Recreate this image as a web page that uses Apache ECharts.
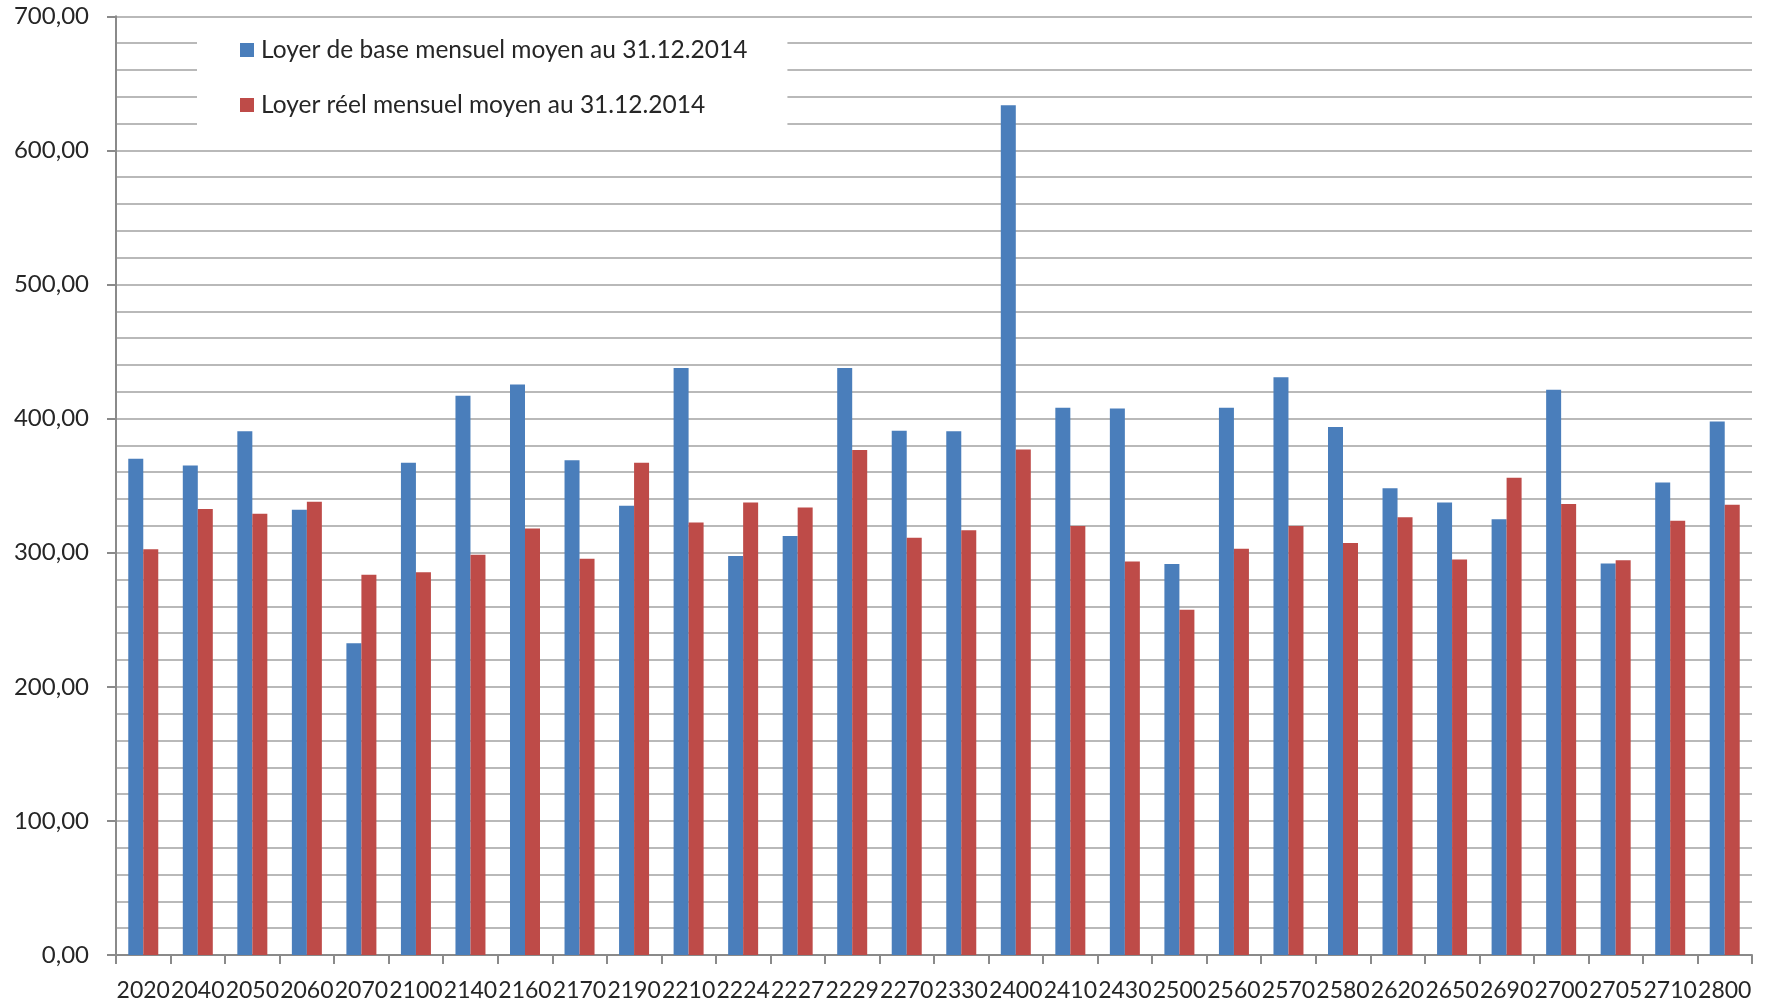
<!DOCTYPE html>
<html>
<head>
<meta charset="utf-8">
<script src="https://cdn.jsdelivr.net/npm/echarts@6/dist/echarts.min.js"></script>
<style>html,body{margin:0;padding:0;background:#fff}#c{width:1767px;height:1005px}</style>
</head>
<body>
<div id="c"></div>
<script>
const categories = ['2020','2040','2050','2060','2070','2100','2140','2160','2170','2190','2210','2224','2227','2229','2270','2330','2400','2410','2430','2500','2560','2570','2580','2620','2650','2690','2700','2705','2710','2800'];
const loyerBase = [370, 365, 390.5, 332, 232.5, 367, 417, 425.5, 369, 335, 437.7, 297.5, 312.5, 437.7, 391, 390.5, 633.6, 408, 407.5, 291.6, 408, 430.8, 393.8, 348, 337.5, 325, 421.5, 292, 352.3, 397.8];
const loyerReel = [302.5, 332.5, 329, 338, 283.5, 285.5, 298.5, 318, 295.5, 367, 322.5, 337.5, 333.7, 376.5, 311.2, 316.8, 377, 320, 293.5, 257.5, 303, 320, 307.3, 326.5, 295, 355.8, 336.3, 294.3, 323.8, 335.8];
const seriesNames = ['Loyer de base mensuel moyen au 31.12.2014', 'Loyer réel mensuel moyen au 31.12.2014'];

const FONT = 'Lato';
const TXT = '#262626';
const GRID = '#b9b9b9';
const AXIS = '#8a8a8a';

const chart = echarts.init(document.getElementById('c'), null, {renderer: 'canvas'});
chart.setOption({
  animation: false,
  backgroundColor: '#ffffff',
  textStyle: {fontFamily: FONT, color: TXT},
  grid: {left: 116, right: 15, top: 16.3, bottom: 50, containLabel: false},
  legend: {
    orient: 'vertical',
    left: 197, top: 25,
    padding: [11, 40, 13, 43],
    backgroundColor: '#ffffff',
    itemWidth: 14, itemHeight: 14,
    itemGap: 27,
    icon: 'rect',
    textStyle: {fontFamily: FONT, fontSize: 24.5, color: TXT, lineHeight: 28, padding: [0, 0, 0, 2]},
    data: seriesNames
  },
  xAxis: {
    type: 'category',
    data: categories,
    boundaryGap: true,
    axisLine: {show: true, lineStyle: {color: AXIS, width: 2}},
    axisTick: {show: true, length: 9, alignWithLabel: false, lineStyle: {color: AXIS, width: 2}},
    axisLabel: {interval: 0, hideOverlap: false, margin: 24, fontFamily: FONT, fontSize: 23, color: TXT},
    splitLine: {show: false}
  },
  yAxis: {
    type: 'value',
    min: 0, max: 700, interval: 100,
    axisLine: {show: true, lineStyle: {color: AXIS, width: 2}},
    axisTick: {show: true, length: 9, lineStyle: {color: AXIS, width: 2}},
    axisLabel: {margin: 27, fontFamily: FONT, fontSize: 24, color: TXT,
      formatter: v => v.toFixed(2).replace('.', ',')},
    splitLine: {show: true, lineStyle: {color: GRID, width: 2}},
    minorTick: {show: false, splitNumber: 5},
    minorSplitLine: {show: true, lineStyle: {color: GRID, width: 2}}
  },
  series: [
    {name: seriesNames[0], type: 'bar', data: loyerBase, barWidth: 15, barGap: '0%',
     itemStyle: {color: '#4a7ebb'}},
    {name: seriesNames[1], type: 'bar', data: loyerReel, barWidth: 15, barGap: '0%',
     itemStyle: {color: '#be4b48'}}
  ]
});
</script>
</body>
</html>
